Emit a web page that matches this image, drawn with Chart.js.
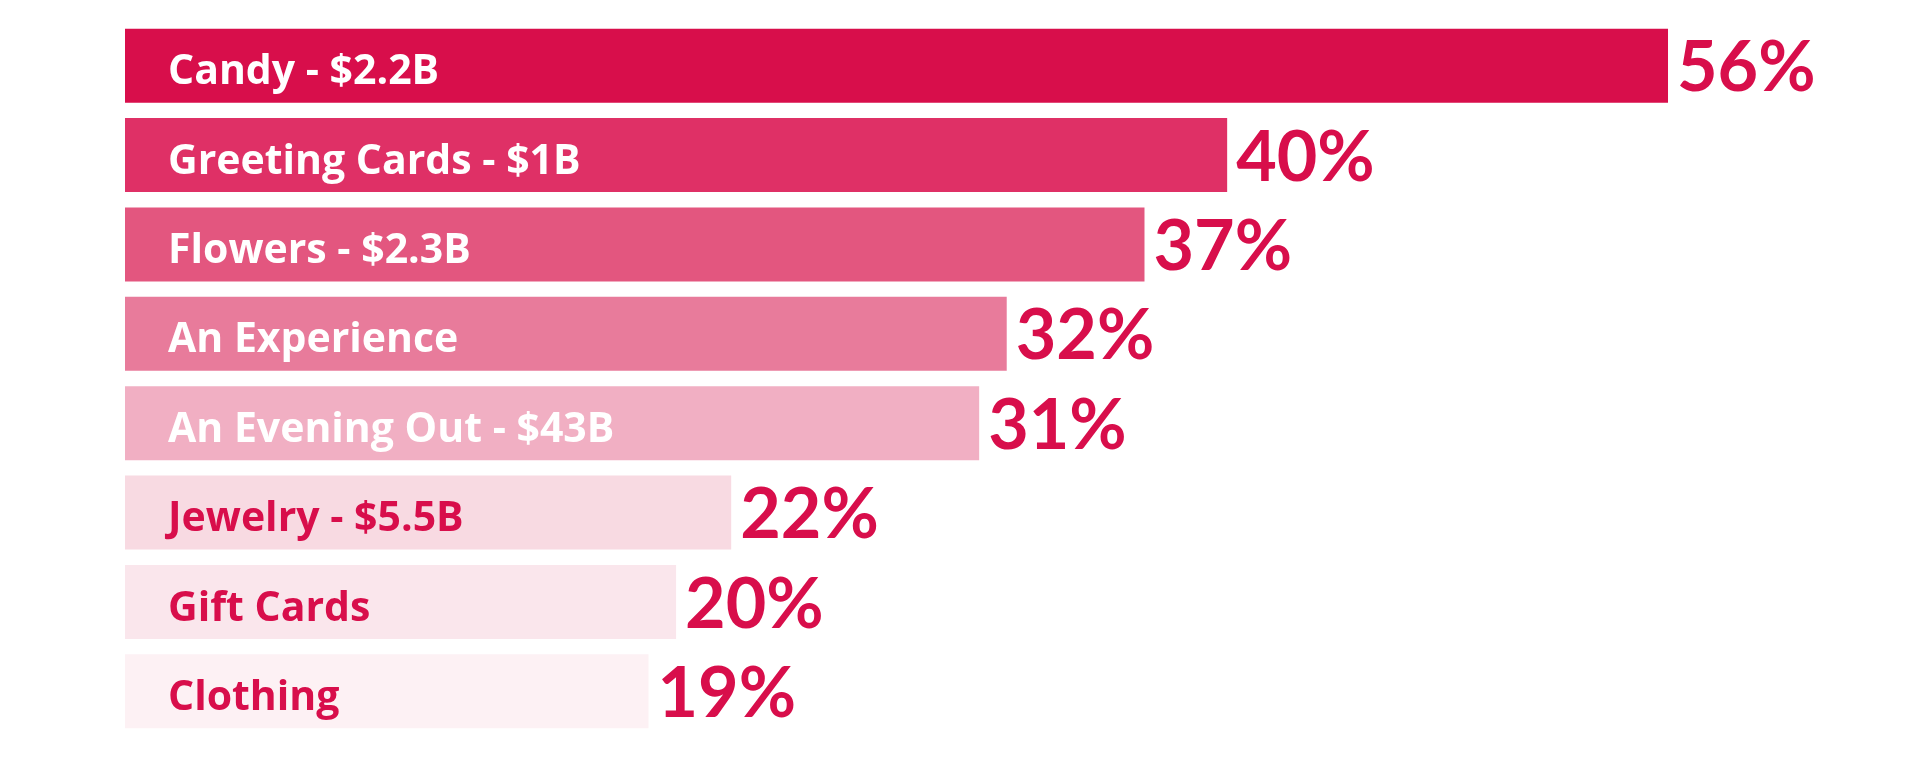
<!DOCTYPE html>
<html>
<head>
<meta charset="utf-8">
<script src="https://cdn.jsdelivr.net/npm/chart.js@4.4.1/dist/chart.umd.min.js"></script>
<style>
  html, body { margin: 0; padding: 0; background: #ffffff; }
  #wrap { width: 1920px; height: 762px; }
</style>
</head>
<body>
<div id="wrap"><canvas id="giftChart" width="1920" height="762"></canvas></div>
<script>
// Valentine's Day gift categories, share of people buying (%)
const categories = ['Candy', 'Greeting Cards', 'Flowers', 'An Experience', 'An Evening Out', 'Jewelry', 'Gift Cards', 'Clothing'];
const spending = ['$2.2B', '$1B', '$2.3B', null, '$43B', '$5.5B', null, null];
const shares = [56, 40, 37, 32, 31, 22, 20, 19];
const barColors = ['#d80e4b', '#df3066', '#e3567f', '#e87b9b', '#f1afc3', '#f8dae2', '#fae6ec', '#fdf1f4'];
const labelColors = ['#ffffff', '#ffffff', '#ffffff', '#ffffff', '#ffffff', '#d80e4b', '#d80e4b', '#d80e4b'];

const accent = '#d80e4b';

// draws the category name inside each bar and the percentage after it
const barLabels = {
    id: 'barLabels',
    afterDatasetsDraw(chart) {
        const ctx = chart.ctx;
        const meta = chart.getDatasetMeta(0);
        ctx.save();
        meta.data.forEach(function (bar, i) {
            const left = chart.scales.x.getPixelForValue(0);
            const name = spending[i] ? categories[i] + ' - ' + spending[i] : categories[i];
            ctx.textBaseline = 'middle';
            ctx.textAlign = 'left';
            ctx.font = '700 41px "Open Sans", sans-serif';
            ctx.fillStyle = labelColors[i];
            ctx.fillText(name, left + 43, bar.y + 7);

            ctx.font = '700 70px Lato, sans-serif';
            ctx.fillStyle = accent;
            ctx.fillText(shares[i] + '%', bar.x + 9, bar.y + 3);
        });
        ctx.restore();
    }
};

new Chart(document.getElementById('giftChart').getContext('2d'), {
    type: 'bar',
    data: {
        labels: categories,
        datasets: [{
            data: shares,
            backgroundColor: barColors,
            borderWidth: 0,
            barPercentage: 1,
            categoryPercentage: 0.828
        }]
    },
    options: {
        indexAxis: 'y',
        responsive: false,
        animation: false,
        layout: { padding: { left: 125, right: 4, top: 21, bottom: 26 } },
        scales: {
            x: { display: false, min: 0, max: 65 },
            y: { display: false }
        },
        plugins: {
            legend: { display: false },
            tooltip: { enabled: false }
        }
    },
    plugins: [barLabels]
});
</script>
</body>
</html>
